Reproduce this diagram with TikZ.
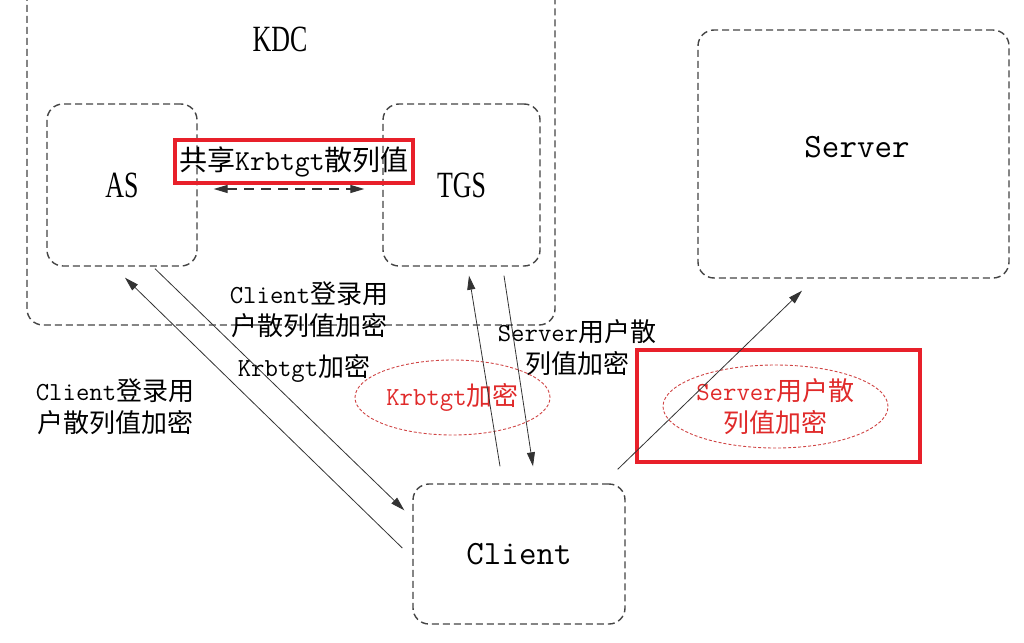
\documentclass[tikz,border=0pt]{standalone}
\usepackage{fontspec}
\setmainfont{Liberation Serif}
\newfontfamily\cjk{Noto Sans CJK SC}
\newfontfamily\cond[FakeStretch=0.7]{Liberation Serif}
\usetikzlibrary{arrows.meta,shapes.geometric}
\definecolor{boxc}{HTML}{444444}
\definecolor{linec}{HTML}{333333}
\definecolor{redbox}{HTML}{E8202A}
\definecolor{redtxt}{HTML}{E02A2A}
\definecolor{redell}{HTML}{D04545}
\newcommand{\mon}{\ttfamily}
\tikzset{
  dbox/.style={draw=boxc, dash pattern=on 7pt off 4pt, line width=1.4pt, rounded corners=16pt, inner sep=0pt},
  bigmono/.style={font=\fontsize{34}{40}\selectfont\ttfamily},
  condtxt/.style={font=\fontsize{37}{40}\selectfont\cond},
  lbl/.style={font=\fontsize{26}{32}\selectfont, align=center, inner sep=0pt},
  arr/.style={draw=linec, line width=0.8pt, -{Triangle[length=14pt,width=8pt]}},
  redframe/.style={draw=redbox, line width=3.5pt, inner sep=0pt},
  redell/.style={ellipse, draw=redell, dash pattern=on 3pt off 2pt, line width=0.9pt, inner sep=0pt, text=redtxt},
}
\begin{document}
\begin{tikzpicture}[x=1pt,y=-1pt]
\useasboundingbox (0,0) rectangle (1024,642);
\fill[white] (0,0) rectangle (1024,642);
% boxes
\node[dbox, minimum width=528pt, minimum height=365pt] (kdc) at (291,142.5) {};
\node[condtxt] (kdclbl) at (280,39) {KDC};
\node[dbox, condtxt, minimum width=150pt, minimum height=162pt] (as) at (122,185) {AS};
\node[dbox, condtxt, minimum width=157pt, minimum height=162pt] (tgs) at (461.5,185) {TGS};
\node[dbox, minimum width=311pt, minimum height=248pt] (server) at (853.5,154) {};
\node[bigmono] (serverlbl) at (857,147) {Server};
\node[dbox, bigmono, minimum width=212pt, minimum height=140pt] (client) at (519,554) {Client};
% shared hash label
\node[redframe, minimum width=238pt, minimum height=43pt, font=\fontsize{28}{32}\selectfont] (share) at (294,161.5)
  {{\cjk 共享}{\mon\fontsize{29}{32}\selectfont Krbtgt}{\cjk 散列值}};
\draw[draw=linec, line width=1.2pt, dash pattern=on 10pt off 7pt, {Triangle[length=14pt,width=8pt]}-{Triangle[length=14pt,width=8pt]}]
  ([shift={(16,4)}]as.east) -- ([shift={(-18,4)}]tgs.west);
% labels
\node[lbl] (l1) at (309,310) {{\mon Client}{\cjk 登录用}\\{\cjk 户散列值加密}};
\node[lbl] (l2) at (304,368) {{\mon Krbtgt}{\cjk 加密}};
\node[lbl] (l3) at (115,407) {{\mon Client}{\cjk 登录用}\\{\cjk 户散列值加密}};
\node[lbl] (l4) at (577,348) {{\mon Server}{\cjk 用户散}\\{\cjk 列值加密}};
% red ellipses
\node[redell, minimum width=195pt, minimum height=75pt, font=\fontsize{26}{32}\selectfont] (e1) at (452.5,397.5) {{\mon Krbtgt}{\cjk 加密}};
\node[redframe, minimum width=283pt, minimum height=112pt] (rb2) at (778.5,406) {};
\node[redell, minimum width=225pt, minimum height=83pt, align=center, font=\fontsize{26}{32}\selectfont] (e2) at (775.5,406.5) {{\mon Server}{\cjk 用户散}\\{\cjk 列值加密}};
% arrows
\draw[arr] ([shift={(-10,-6)}]client.west) -- ([shift={(3,11)}]as.south);
\draw[arr] ([shift={(33,2)}]as.south) -- ([shift={(-8,27)}]client.north west);
\draw[arr] ([shift={(-19,-17)}]client.north) -- ([shift={(7.5,9)}]tgs.south);
\draw[arr] ([shift={(42.5,9)}]tgs.south) -- ([shift={(14,-17)}]client.north);
\draw[arr] ([shift={(-8,-14)}]client.north east) -- ([shift={(-51.5,12)}]server.south);
\end{tikzpicture}
\end{document}
